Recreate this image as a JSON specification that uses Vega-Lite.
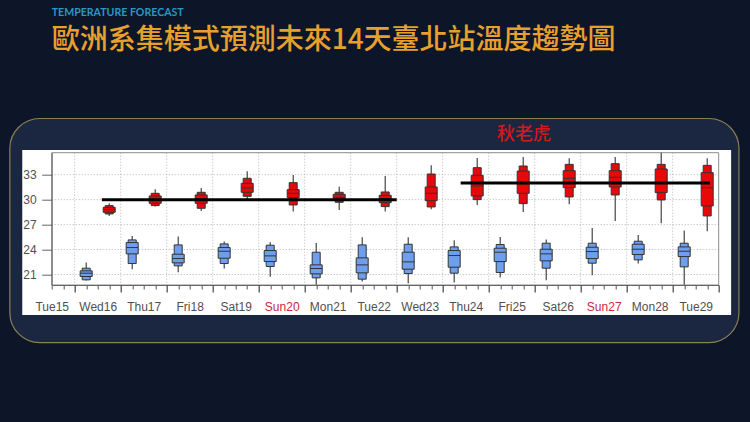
{
  "$schema": "https://vega.github.io/schema/vega-lite/v6.json",
  "width": 667,
  "height": 132.3,
  "autosize": "none",
  "padding": {"left": 51.7, "top": 152.7, "right": 31.3, "bottom": 137},
  "background": "#0d1529",
  "view": {"stroke": null},
  "title": {
    "text": "TEMPERATURE FORECAST",
    "subtitle": "歐洲系集模式預測未來14天臺北站溫度趨勢圖",
    "anchor": "start",
    "frame": "group",
    "orient": "top",
    "offset": 63,
    "font": "Lato",
    "fontSize": 10.6,
    "fontWeight": 700,
    "color": "#2a97c2",
    "subtitleFont": "Noto Sans CJK TC",
    "subtitleFontSize": 28,
    "subtitleFontWeight": 500,
    "subtitleColor": "#e8a02c",
    "subtitlePadding": 8
  },
  "datasets": {
    "boxes": [
      {"t": 15.75, "series": "low", "lo": 20.28, "p10": 20.36, "p25": 20.76, "med": 21.16, "p75": 21.44, "p90": 21.76, "hi": 22.44},
      {"t": 16.75, "series": "low", "lo": 21.64, "p10": 22.32, "p25": 23.48, "med": 24.24, "p75": 24.84, "p90": 25.16, "hi": 25.64},
      {"t": 17.75, "series": "low", "lo": 21.28, "p10": 22.04, "p25": 22.4, "med": 22.92, "p75": 23.44, "p90": 24.56, "hi": 25.56},
      {"t": 18.75, "series": "low", "lo": 21.72, "p10": 22.32, "p25": 22.96, "med": 23.8, "p75": 24.24, "p90": 24.68, "hi": 24.96},
      {"t": 19.75, "series": "low", "lo": 20.72, "p10": 21.96, "p25": 22.56, "med": 23.24, "p75": 23.88, "p90": 24.52, "hi": 24.88},
      {"t": 20.75, "series": "low", "lo": 19.76, "p10": 20.6, "p25": 21.08, "med": 21.72, "p75": 22.16, "p90": 23.68, "hi": 24.8},
      {"t": 21.75, "series": "low", "lo": 20.16, "p10": 20.44, "p25": 21.2, "med": 22.16, "p75": 23.0, "p90": 24.56, "hi": 25.48},
      {"t": 22.75, "series": "low", "lo": 19.96, "p10": 21.12, "p25": 21.64, "med": 22.52, "p75": 23.68, "p90": 24.64, "hi": 25.48},
      {"t": 23.75, "series": "low", "lo": 20.04, "p10": 21.16, "p25": 21.88, "med": 23.28, "p75": 23.88, "p90": 24.32, "hi": 25.12},
      {"t": 24.75, "series": "low", "lo": 20.64, "p10": 21.24, "p25": 22.56, "med": 23.68, "p75": 24.16, "p90": 24.6, "hi": 25.52},
      {"t": 25.75, "series": "low", "lo": 20.32, "p10": 21.76, "p25": 22.64, "med": 23.48, "p75": 24.04, "p90": 24.76, "hi": 25.2},
      {"t": 26.75, "series": "low", "lo": 20.92, "p10": 22.36, "p25": 22.92, "med": 23.76, "p75": 24.28, "p90": 24.76, "hi": 26.6},
      {"t": 27.75, "series": "low", "lo": 22.32, "p10": 22.76, "p25": 23.4, "med": 24.04, "p75": 24.64, "p90": 25.0, "hi": 25.76},
      {"t": 28.75, "series": "low", "lo": 19.76, "p10": 21.92, "p25": 23.16, "med": 23.8, "p75": 24.32, "p90": 24.76, "hi": 26.28},
      {"t": 16.25, "series": "high", "lo": 28.04, "p10": 28.28, "p25": 28.48, "med": 28.8, "p75": 29.08, "p90": 29.28, "hi": 29.56},
      {"t": 17.25, "series": "high", "lo": 29.16, "p10": 29.28, "p25": 29.56, "med": 30.04, "p75": 30.44, "p90": 30.76, "hi": 31.24},
      {"t": 18.25, "series": "high", "lo": 28.64, "p10": 28.96, "p25": 29.56, "med": 30.08, "p75": 30.56, "p90": 30.88, "hi": 31.4},
      {"t": 19.25, "series": "high", "lo": 30.04, "p10": 30.4, "p25": 30.88, "med": 31.4, "p75": 31.96, "p90": 32.56, "hi": 33.4},
      {"t": 20.25, "series": "high", "lo": 28.56, "p10": 29.36, "p25": 30.24, "med": 30.76, "p75": 31.2, "p90": 32.04, "hi": 32.96},
      {"t": 21.25, "series": "high", "lo": 28.76, "p10": 29.68, "p25": 29.96, "med": 30.28, "p75": 30.64, "p90": 30.88, "hi": 31.56},
      {"t": 22.25, "series": "high", "lo": 28.56, "p10": 29.16, "p25": 29.64, "med": 30.12, "p75": 30.52, "p90": 30.92, "hi": 32.84},
      {"t": 23.25, "series": "high", "lo": 28.84, "p10": 29.12, "p25": 29.88, "med": 30.76, "p75": 31.52, "p90": 33.08, "hi": 34.12},
      {"t": 24.25, "series": "high", "lo": 29.36, "p10": 30.0, "p25": 30.44, "med": 31.64, "p75": 32.92, "p90": 33.84, "hi": 35.0},
      {"t": 25.25, "series": "high", "lo": 28.52, "p10": 29.52, "p25": 30.76, "med": 31.9, "p75": 33.44, "p90": 34.04, "hi": 35.12},
      {"t": 26.25, "series": "high", "lo": 29.44, "p10": 30.32, "p25": 31.44, "med": 32.56, "p75": 33.48, "p90": 34.24, "hi": 34.96},
      {"t": 27.25, "series": "high", "lo": 27.44, "p10": 30.56, "p25": 31.52, "med": 32.68, "p75": 33.48, "p90": 34.32, "hi": 35.12},
      {"t": 28.25, "series": "high", "lo": 27.16, "p10": 29.96, "p25": 30.84, "med": 31.96, "p75": 33.68, "p90": 34.24, "hi": 35.64},
      {"t": 29.25, "series": "high", "lo": 26.2, "p10": 28.04, "p25": 29.24, "med": 31.44, "p75": 33.24, "p90": 34.12, "hi": 34.96}
    ],
    "hot": [
      {"start": 16.09, "end": 22.5, "temp": 30},
      {"start": 23.89, "end": 29.31, "temp": 32}
    ],
    "daylines": [
      {"t": 15.5}, {"t": 16.5}, {"t": 17.5}, {"t": 18.5}, {"t": 19.5}, {"t": 20.5}, {"t": 21.5},
      {"t": 22.5}, {"t": 23.5}, {"t": 24.5}, {"t": 25.5}, {"t": 26.5}, {"t": 27.5}, {"t": 28.5}
    ],
    "templines": [{"temp": 21}, {"temp": 24}, {"temp": 27}, {"temp": 30}, {"temp": 33}]
  },
  "resolve": {"axis": {"x": "independent", "y": "independent"}},
  "layer": [
    {
      "data": {"values": [{}]},
      "mark": {"type": "rect", "fill": "#1b2740", "stroke": "#8d7f55", "strokeWidth": 1.2, "cornerRadius": 30},
      "encoding": {
        "x": {"datum": 14.09, "type": "quantitative", "scale": {"domain": [15, 29.5], "nice": false, "zero": false, "padding": 0}, "axis": null},
        "x2": {"datum": 29.94},
        "y": {"datum": 39.75, "type": "quantitative", "scale": {"domain": [19.74, 35.64], "nice": false, "zero": false, "padding": 0}, "axis": null},
        "y2": {"datum": 12.81}
      }
    },
    {
      "data": {"values": [{}]},
      "mark": {"type": "rect", "fill": "#ffffff"},
      "encoding": {
        "x": {"datum": 14.36, "type": "quantitative", "axis": null},
        "x2": {"datum": 29.77},
        "y": {"datum": 35.97, "type": "quantitative", "axis": null},
        "y2": {"datum": 16.14}
      }
    },
    {
      "data": {"name": "daylines"},
      "mark": {"type": "rule", "color": "#b5b5b5", "strokeWidth": 1, "strokeDash": [1, 2]},
      "encoding": {"x": {"field": "t", "type": "quantitative", "axis": null}}
    },
    {
      "data": {"name": "templines"},
      "mark": {"type": "rule", "color": "#b5b5b5", "strokeWidth": 1, "strokeDash": [1, 2]},
      "encoding": {"y": {"field": "temp", "type": "quantitative", "axis": null}}
    },
    {
      "data": {"values": [{}]},
      "mark": {"type": "rect", "fill": null, "stroke": "#8c8c8c", "strokeWidth": 1},
      "encoding": {
        "x": {"datum": 15, "type": "quantitative", "axis": null},
        "x2": {"datum": 29.5},
        "y": {"datum": 19.74, "type": "quantitative", "axis": null},
        "y2": {"datum": 35.64}
      }
    },
    {
      "data": {"name": "boxes"},
      "mark": {"type": "rule", "color": "#333333", "strokeWidth": 1.1},
      "encoding": {
        "x": {
          "field": "t",
          "type": "quantitative",
          "axis": {
            "orient": "bottom",
            "title": null,
            "values": [15, 15.25, 15.75, 16, 16.25, 16.75, 17, 17.25, 17.75, 18, 18.25, 18.75, 19, 19.25, 19.75, 20, 20.25, 20.75, 21, 21.25, 21.75, 22, 22.25, 22.75, 23, 23.25, 23.75, 24, 24.25, 24.75, 25, 25.25, 25.75, 26, 26.25, 26.75, 27, 27.25, 27.75, 28, 28.25, 28.75, 29, 29.25],
            "labelExpr": "datum.value % 1 == 0 ? ['Tue15','Wed16','Thu17','Fri18','Sat19','Sun20','Mon21','Tue22','Wed23','Thu24','Fri25','Sat26','Sun27','Mon28','Tue29'][datum.value - 15] : ''",
            "labelColor": {"condition": {"test": "datum.value == 20 || datum.value == 27", "value": "#c8283c"}, "value": "#505050"},
            "labelFont": "Liberation Sans",
            "labelFontSize": 12,
            "labelPadding": 12,
            "labelOverlap": false,
            "labelFlush": false,
            "labelBound": false,
            "grid": false,
            "tickSize": 4,
            "tickColor": "#555555",
            "domainColor": "#666666",
            "zindex": 1
          }
        },
        "y": {
          "field": "lo",
          "type": "quantitative",
          "axis": {
            "orient": "left",
            "title": null,
            "values": [21, 24, 27, 30, 33],
            "grid": false,
            "tickSize": 10,
            "tickColor": "#666666",
            "domainColor": "#666666",
            "labelFont": "Liberation Sans",
            "labelFontSize": 12,
            "labelColor": "#505050",
            "labelPadding": 5.5,
            "zindex": 1
          }
        },
        "y2": {"field": "hi"}
      }
    },
    {
      "data": {"name": "boxes"},
      "mark": {"type": "bar", "orient": "vertical", "size": 8, "stroke": "#333333", "strokeWidth": 1},
      "encoding": {
        "x": {
          "field": "t",
          "type": "quantitative",
          "axis": {
            "orient": "bottom",
            "title": null,
            "values": [15.5, 16.5, 17.5, 18.5, 19.5, 20.5, 21.5, 22.5, 23.5, 24.5, 25.5, 26.5, 27.5, 28.5, 29.5],
            "labels": false,
            "grid": false,
            "domain": false,
            "tickSize": 7,
            "tickColor": "#444444",
            "tickWidth": 1.2,
            "zindex": 1
          }
        },
        "y": {"field": "p10", "type": "quantitative", "axis": null},
        "y2": {"field": "p90"},
        "fill": {"field": "series", "type": "nominal", "scale": {"domain": ["low", "high"], "range": ["#6f9fec", "#e80808"]}, "legend": null}
      }
    },
    {
      "data": {"name": "boxes"},
      "mark": {"type": "bar", "orient": "vertical", "size": 12, "stroke": "#333333", "strokeWidth": 1},
      "encoding": {
        "x": {"field": "t", "type": "quantitative", "axis": null},
        "y": {"field": "p25", "type": "quantitative", "axis": null},
        "y2": {"field": "p75"},
        "fill": {"field": "series", "type": "nominal", "legend": null}
      }
    },
    {
      "data": {"name": "boxes"},
      "mark": {"type": "tick", "orient": "horizontal", "size": 12, "thickness": 1, "color": "#333333", "opacity": 1},
      "encoding": {
        "x": {"field": "t", "type": "quantitative", "axis": null},
        "y": {"field": "med", "type": "quantitative", "axis": null}
      }
    },
    {
      "data": {"name": "hot"},
      "mark": {"type": "rule", "color": "#000000", "strokeWidth": 3},
      "encoding": {
        "x": {"field": "start", "type": "quantitative", "axis": null},
        "x2": {"field": "end"},
        "y": {"field": "temp", "type": "quantitative", "axis": null}
      }
    },
    {
      "data": {"values": [{"label": "秋老虎"}]},
      "mark": {"type": "text", "font": "Noto Sans CJK TC", "fontSize": 18, "fontWeight": 500, "color": "#cf1b1b"},
      "encoding": {
        "x": {"datum": 25.27, "type": "quantitative", "axis": null},
        "y": {"datum": 37.75, "type": "quantitative", "axis": null},
        "text": {"field": "label"}
      }
    }
  ]
}
